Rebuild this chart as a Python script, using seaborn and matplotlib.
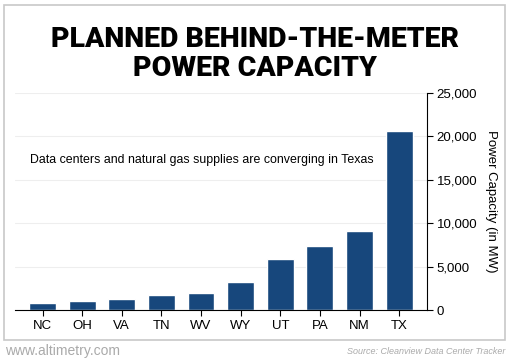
import matplotlib
matplotlib.use("Agg")
import matplotlib.pyplot as plt
import seaborn as sns
import pandas as pd
from matplotlib.patches import Rectangle
from matplotlib.ticker import FuncFormatter

# values (MW)
states = ["NC", "OH", "VA", "TN", "WV", "WY", "UT", "PA", "NM", "TX"]
capacity = [800, 1050, 1250, 1750, 1950, 3200, 5900, 7400, 9100, 20600]
yticks = [0, 5000, 10000, 15000, 20000, 25000]

df = pd.DataFrame({"state": states, "mw": capacity})

sns.set_style("white", {"text.color": "black", "axes.labelcolor": "black",
                        "xtick.color": "black", "ytick.color": "black"})
plt.rcParams["font.family"] = ["Liberation Sans", "DejaVu Sans"]

fig = plt.figure(figsize=(5.1, 3.58), dpi=100)
ax = fig.add_axes([0.029, 0.134, 0.808, 0.606])

sns.barplot(data=df, x="state", y="mw", color="#17477c", saturation=1,
            width=0.68, ax=ax)

ax.set_ylim(0, 25000)
ax.set_xlim(-0.7, 9.7)
ax.set_yticks(yticks)
ax.yaxis.set_major_formatter(FuncFormatter(lambda v, p: f"{int(v):,}"))
ax.yaxis.tick_right()
ax.yaxis.set_label_position("right")
ax.set_ylabel("Power Capacity (in MW)", rotation=-90, labelpad=14, fontsize=9.5)
ax.set_xlabel("")
ax.grid(axis="y", color="#eeeeee", linewidth=0.8)
ax.set_axisbelow(True)
for s in ["top", "left"]:
    ax.spines[s].set_visible(False)
ax.spines["right"].set_color("black")
ax.spines["bottom"].set_color("black")
ax.spines["right"].set_linewidth(0.8)
ax.spines["bottom"].set_linewidth(0.8)
ax.tick_params(axis="both", length=4, width=0.8, color="black", labelsize=9.5, pad=3)
ax.tick_params(axis="x", bottom=True)
ax.tick_params(axis="y", right=True)

ax.text(0.036, 0.69, "Data centers and natural gas supplies are converging in Texas",
        transform=ax.transAxes, fontsize=8.9, va="center")

# title
fig.text(0.5, 0.85, "PLANNED BEHIND-THE-METER\nPOWER CAPACITY", ha="center",
         va="center", fontsize=20.5, fontweight="black", family=["Roboto", "DejaVu Sans"],
         linespacing=1.1, color="black")

# frame
fig.patches.append(Rectangle((4 / 510, 1 - 340 / 358), 501 / 510, 335 / 358,
                             transform=fig.transFigure, fill=False,
                             edgecolor="#c8c8c8", linewidth=1.2))

fig.text(5 / 510, 1 - 351 / 358, "www.altimetry.com", fontsize=10, color="#aaaaaa",
         va="center", ha="left")
fig.text(505 / 510, 1 - 351 / 358, "Source: Cleanview Data Center Tracker", fontsize=6.5,
         color="#aaaaaa", style="italic", va="center", ha="right")

fig.savefig("out.png", dpi=100)
